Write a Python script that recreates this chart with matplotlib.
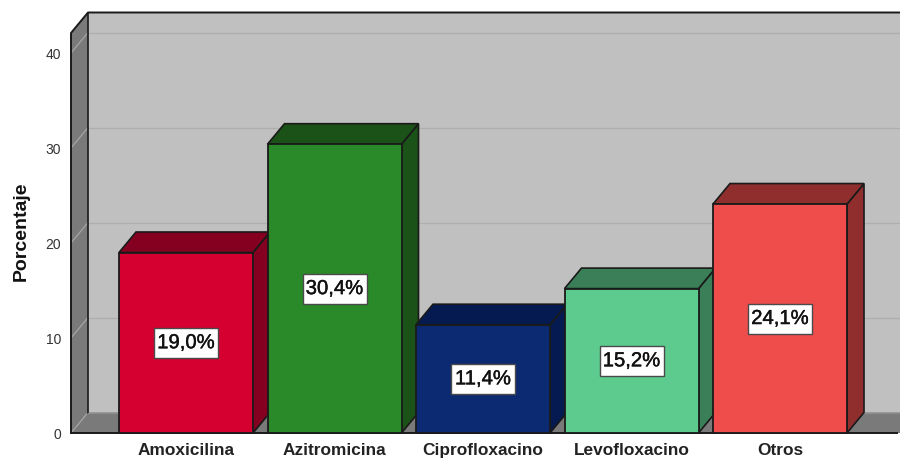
import matplotlib
matplotlib.use('Agg')
import matplotlib.pyplot as plt
import matplotlib.patheffects as pe
from matplotlib.patches import Polygon, Rectangle

plt.rcParams['font.family'] = ['Liberation Sans', 'DejaVu Sans']

categorias = ['Amoxicilina', 'Azitromicina', 'Ciprofloxacino', 'Levofloxacino', 'Otros']
valores = [19.0, 30.4, 11.4, 15.2, 24.1]
etiquetas = ['19,0%', '30,4%', '11,4%', '15,2%', '24,1%']
colores = ['#d60030', '#2a8a2a', '#0b2a72', '#5dcb8d', '#ef4c4c']
lados = ['#850020', '#1a5218', '#041a50', '#3a7f57', '#902e2e']
marcas_y = [0, 10, 20, 30, 40]

W, H = 900, 461
# escala de la imagen
px_x = 148.5
px_y = 9.5
x0_px = 186
y0_px = 433
dx = 17 / px_x
dy = 20.5 / px_y
ancho = 134 / px_x

fig = plt.figure(figsize=(W / 100, H / 100), dpi=100)
left, right, top = 71, 900, 33
ax = fig.add_axes([left / W, (H - y0_px) / H, (right - left) / W, (y0_px - top) / H])
ax.set_xlim((left - x0_px) / px_x, (right - x0_px) / px_x)
ymax = (y0_px - top) / px_y
ax.set_ylim(0, ymax)
for s in ax.spines.values():
    s.set_visible(False)

xmin, xmax = ax.get_xlim()
linea = '#1a1a1a'

# paredes
ax.add_patch(Polygon([(xmin + dx, dy), (xmax + 1, dy), (xmax + 1, ymax + dy), (xmin + dx, ymax + dy)],
                     fc='#c0c0c0', ec='none', clip_on=False, zorder=1))
ax.add_patch(Polygon([(xmin, 0), (xmin + dx, dy), (xmin + dx, ymax + dy), (xmin, ymax)],
                     fc='#7a7a7a', ec='none', clip_on=False, zorder=1))
ax.add_patch(Polygon([(xmin, 0), (xmin + dx, dy), (xmax + 1, dy), (xmax + 1, 0)],
                     fc='#7a7a7a', ec='none', clip_on=False, zorder=1))

# rejilla
for v in marcas_y[1:]:
    ax.plot([xmin + dx, xmax], [v + dy, v + dy], color='#aeaeae', lw=0.9, clip_on=False, zorder=2)
    ax.plot([xmin, xmin + dx], [v, v + dy], color='#a5a5a5', lw=0.9, clip_on=False, zorder=2)
ax.plot([xmin, xmin + dx], [0, dy], color='#a5a5a5', lw=0.9, clip_on=False, zorder=2)

# bordes
ax.plot([xmin, xmin, xmin + dx, xmax], [0, ymax, ymax + dy, ymax + dy], color=linea, lw=1.4, clip_on=False, zorder=3)
ax.plot([xmin + dx, xmin + dx], [dy, ymax + dy], color=linea, lw=1.2, clip_on=False, zorder=3)
ax.plot([xmin + dx, xmax], [dy, dy], color='#8c8c8c', lw=0.9, clip_on=False, zorder=3)
ax.plot([xmin, xmax - 3 / px_x], [0, 0], color=linea, lw=1.4, clip_on=False, zorder=3)

# barras
caja_w = 64 / px_x
caja_h = 30 / px_y
for i, v in enumerate(valores):
    a = i - ancho / 2
    b = i + ancho / 2
    z = 4 + i
    ax.add_patch(Polygon([(b, 0), (b + dx, dy), (b + dx, v + dy), (b, v)],
                         fc=lados[i], ec=linea, lw=1.2, clip_on=False, zorder=z))
    ax.add_patch(Polygon([(a, v), (a + dx, v + dy), (b + dx, v + dy), (b, v)],
                         fc=lados[i], ec=linea, lw=1.2, clip_on=False, zorder=z))
    ax.add_patch(Rectangle((a, 0), ancho, v, fc=colores[i], ec=linea, lw=1.3, clip_on=False, zorder=z))
    ax.add_patch(Rectangle((i - caja_w / 2, v / 2 - caja_h / 2), caja_w, caja_h, fc='white', ec='#4a4a4a',
                           lw=1, zorder=20))
    ax.text(i, v / 2, etiquetas[i], ha='center', va='center', fontsize=14.6, color='#111111', zorder=21,
            path_effects=[pe.withStroke(linewidth=0.3, foreground='#111111')])

ax.set_xticks(range(len(categorias)))
ax.set_xticklabels(categorias, fontsize=12.4, fontweight='bold', color='#222222')
ax.set_yticks(marcas_y)
ax.set_yticklabels([str(m) for m in marcas_y], fontsize=10, color='#333333')
ax.tick_params(axis='x', length=0, pad=7.5)
ax.tick_params(axis='y', length=0, pad=7)
ax.set_ylabel('Porcentaje', fontsize=14, fontweight='bold', color='#111111')
ax.yaxis.set_label_coords(-(71 - 30) / (right - left), (y0_px - 231.5) / (y0_px - top))

fig.savefig('out.png', dpi=100)
